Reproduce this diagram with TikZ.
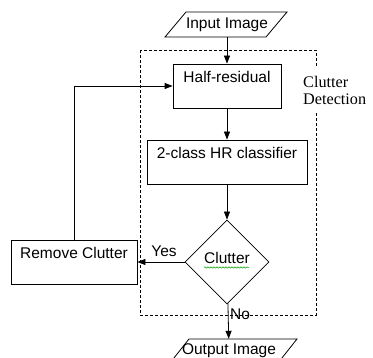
\documentclass[tikz,border=0pt]{standalone}
\usepackage{fontspec}
\setmainfont{Liberation Sans}
\newfontfamily\serifdet{Liberation Serif}
\usetikzlibrary{arrows.meta,shapes.geometric,decorations.pathmorphing}
\begin{document}
\begin{tikzpicture}[x=1pt,y=-1pt,
  line/.style={line width=0.8pt, draw=black},
  arr/.style={line width=0.8pt, draw=black, -{Triangle[length=8pt,width=6pt]}},
  txt/.style={font=\fontsize{15.5}{18}\selectfont},
  box/.style={line, txt, rectangle, inner sep=0pt, text height=11pt, text depth=18pt, minimum height=44pt},
  io/.style={txt, inner sep=0pt, minimum height=25pt},
  lbl/.style={txt, inner sep=0pt},
  dashbox/.style={line width=0.7pt, dash pattern=on 3pt off 2pt},
]
\useasboundingbox (0,0) rectangle (373,358);

% dashed group
\draw[dashbox] (140,50) rectangle (316,315);

% input / output
\draw[line] (186,12) -- (287,12) -- (266,37) -- (165,37) -- cycle;
\node[io] (in) at (227,24.5) {Input Image};
\draw[line] (189,339) -- (297,339) -- (278,363) -- (170,363) -- cycle;
\node[io, minimum height=24pt] (out) at (229,351) {Output Image};

% process boxes
\node[box, minimum width=108pt] (hr) at (227,86) {Half-residual};
\node[box, minimum width=160pt] (cls) at (227,162) {2-class HR classifier};
\node[box, minimum width=126pt] (rc) at (74,262) {Remove Clutter};
\node[line, txt, diamond, aspect=1, inner sep=0pt, minimum width=84pt, minimum height=84pt,
      text height=11pt, text depth=8pt] (dm) at (227,262) {Clutter};
\draw[green!60!black, line width=0.5pt, decorate,
      decoration={snake, amplitude=0.7pt, segment length=3pt}]
  ([shift={(-23,5.5)}]dm.center) -- ([shift={(22,5.5)}]dm.center);

% group label
\node[fill=white, inner xsep=2pt, inner ysep=8pt, align=left, anchor=west,
      font=\serifdet\fontsize{16.2}{17.5}\selectfont] (cd) at (301,90.5) {Clutter\\Detection};

% connectors
\draw[arr] (in) -- (hr);
\draw[arr] (hr) -- (cls);
\draw[arr] (cls) -- (dm);
\draw[arr] (dm) -- (out);
\draw[arr] (dm) -- (rc);
\draw[arr] (rc) |- (hr);

% labels
\node[lbl] (yes) at (164,251) {Yes};
\node[lbl] (no) at (240,314) {No};
\end{tikzpicture}
\end{document}
